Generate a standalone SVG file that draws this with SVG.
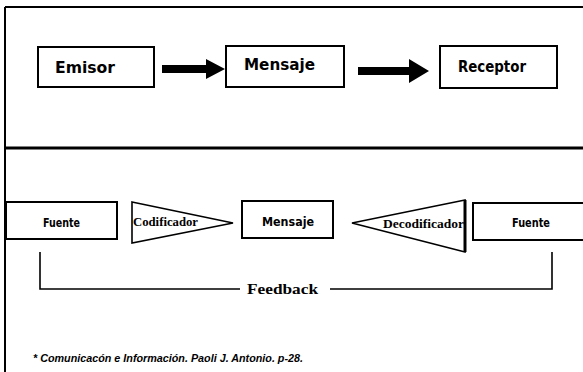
<svg xmlns="http://www.w3.org/2000/svg" width="583" height="372" viewBox="0 0 583 372">
<style>
.box{fill:#fff;stroke:#000;stroke-width:2}
.tri{fill:#fff;stroke:#000;stroke-width:1.6;stroke-linejoin:miter}
.frame{fill:none;stroke:#000;stroke-width:2}
.big{font-family:"DejaVu Sans Condensed","DejaVu Sans",sans-serif;font-weight:bold;font-size:16px;fill:#000}
.sm{font-family:"DejaVu Sans Condensed","DejaVu Sans",sans-serif;font-weight:bold;font-size:13px;fill:#000}
.serif{font-family:"Liberation Serif",serif;font-weight:bold;fill:#000}
.foot{font-family:"Liberation Sans",sans-serif;font-weight:bold;font-style:italic;font-size:11px;fill:#000}
.arrow{fill:#000}
.fb{fill:none;stroke:#000;stroke-width:1.6}
</style>
<rect width="583" height="372" fill="#fff"/>
<g id="frame">
<path class="frame" d="M5,7 H583 M5,7 V372"/>
<path d="M5,148 H583" stroke="#000" stroke-width="3"/>
</g>
<g id="connectors">
<polygon class="arrow" points="162,65 206,65 206,59 225,69 206,79 206,73 162,73"/>
<polygon class="arrow" points="358,67 409,67 409,59 429,71 409,83 409,75 358,75"/>
<path class="fb" d="M40,252 V289 H240 M330,289 H552 V252"/>
<text class="serif" x="247" y="294" font-size="15.5" textLength="71" lengthAdjust="spacingAndGlyphs">Feedback</text>
</g>
<g id="emisor">
<rect class="box" x="38" y="47" width="116" height="40"/>
<text class="big" x="55" y="73" textLength="60" lengthAdjust="spacingAndGlyphs">Emisor</text>
</g>
<g id="mensaje1">
<rect class="box" x="226" y="46" width="118" height="41"/>
<text class="big" x="244" y="70" textLength="71" lengthAdjust="spacingAndGlyphs">Mensaje</text>
</g>
<g id="receptor">
<rect class="box" x="440" y="46" width="117" height="42"/>
<text class="big" x="458" y="72" textLength="68" lengthAdjust="spacingAndGlyphs">Receptor</text>
</g>
<g id="fuente1">
<rect class="box" x="6" y="202" width="111" height="37"/>
<text class="sm" x="43" y="227" textLength="37" lengthAdjust="spacingAndGlyphs">Fuente</text>
</g>
<g id="codificador">
<polygon class="tri" points="132,202 233,223 132,243"/>
<text class="serif" x="133" y="226" font-size="12" textLength="65" lengthAdjust="spacingAndGlyphs">Codificador</text>
</g>
<g id="mensaje2">
<rect class="box" x="242" y="201" width="91" height="37"/>
<text class="sm" x="262" y="226" textLength="52" lengthAdjust="spacingAndGlyphs">Mensaje</text>
</g>
<g id="decodificador">
<polygon class="tri" points="465,200 352,223 465,252"/>
<path d="M465,200 V252" stroke="#000" stroke-width="3"/>
<text class="serif" x="383" y="228" font-size="12" textLength="81" lengthAdjust="spacingAndGlyphs">Decodificador</text>
</g>
<g id="fuente2">
<rect class="box" x="473" y="203" width="115" height="37"/>
<text class="sm" x="512" y="227" textLength="38" lengthAdjust="spacingAndGlyphs">Fuente</text>
</g>
<g id="footnote">
<text class="foot" x="33" y="362" textLength="270" lengthAdjust="spacingAndGlyphs">* Comunicacón e Información. Paoli J. Antonio. p-28.</text>
</g>
</svg>
